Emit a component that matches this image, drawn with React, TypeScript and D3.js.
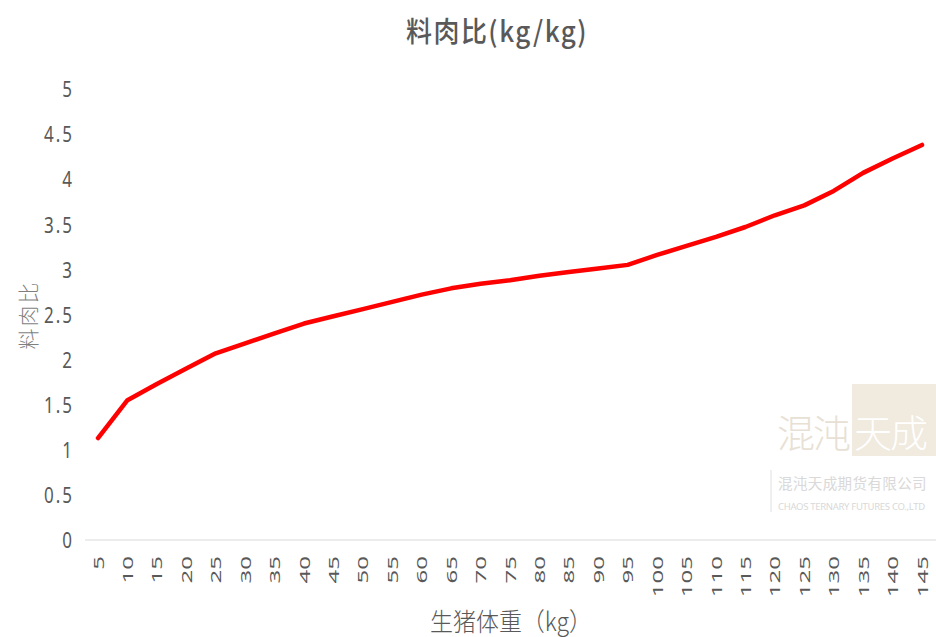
import React from "react";
import * as d3 from "d3";

const weights: number[] = [5, 10, 15, 20, 25, 30, 35, 40, 45, 50, 55, 60, 65, 70, 75, 80, 85, 90, 95, 100, 105, 110, 115, 120, 125, 130, 135, 140, 145];
const feedRatio: number[] = [1.13, 1.55, 1.73, 1.9, 2.07, 2.18, 2.29, 2.4, 2.48, 2.56, 2.64, 2.72, 2.79, 2.84, 2.88, 2.93, 2.97, 3.01, 3.05, 3.16, 3.26, 3.36, 3.47, 3.6, 3.71, 3.87, 4.07, 4.23, 4.38];
const yTicks: number[] = [0, 0.5, 1, 1.5, 2, 2.5, 3, 3.5, 4, 4.5, 5];
const title = "料肉比(kg/kg)";
const xTitle = "生猪体重（kg）";
const yTitle = "料肉比";

const W = 936;
const H = 637;
const FONT = "'Noto Sans', 'Noto Sans CJK SC', sans-serif";
const CJK = "'Noto Sans CJK SC', sans-serif";

export default function App() {
  const x = d3.scalePoint<string>().domain(weights.map(String)).range([83.3, 936.7]).padding(0.5);
  const y = d3.scaleLinear().domain([0, 5]).range([540, 89]);
  const line = d3
    .line<number>()
    .x((_, i) => x(String(weights[i])) as number)
    .y((d) => y(d));

  return (
    <svg width={W} height={H} style={{ position: "absolute", left: 0, top: 0, background: "#fff" }}>
      <rect width={W} height={H} fill="#fff" />
      {/* title */}
      <text
        transform="translate(497, 42) scale(1, 1.1)"
        textAnchor="middle"
        fontFamily={CJK}
        fontSize={26}
        fontWeight={500}
        letterSpacing={1.5}
        fill="#595959"
      >
        {title}
      </text>
      {/* y ticks */}
      {yTicks.map((t) => (
        <text
          key={t}
          transform={`translate(74, ${y(t)}) scale(1, 1.25)`}
          textAnchor="end"
          dominantBaseline="central"
          fontFamily={FONT}
          fontSize={17}
          letterSpacing={2}
          fill="#595959"
        >
          {String(t)}
        </text>
      ))}
      {/* y title */}
      <text
        transform={`translate(36, 315) rotate(-90)`}
        textAnchor="middle"
        fontFamily={CJK}
        fontSize={21}
        fontWeight={300}
        letterSpacing={2}
        fill="#7f7f7f"
      >
        {yTitle}
      </text>
      {/* baseline */}
      <line x1={85} x2={936} y1={y(0)} y2={y(0)} stroke="#d9d9d9" strokeWidth={1.2} />
      {/* x ticks */}
      {weights.map((w) => (
        <text
          key={w}
          transform={`translate(${(x(String(w)) as number)}, 556) rotate(-90) scale(1.6, 1)`}
          textAnchor="end"
          dominantBaseline="central"
          fontFamily={FONT}
          fontSize={15}
          fill="#595959"
        >
          {String(w)}
        </text>
      ))}
      {/* x title */}
      <text
        transform="translate(511, 631) scale(1, 1.1)"
        textAnchor="middle"
        fontFamily={CJK}
        fontSize={23}
        fontWeight={300}
        fill="#595959"
      >
        {xTitle}
      </text>
      {/* watermark */}
      <g opacity={0.9}>
        <text x={777} y={447} fontFamily={CJK} fontSize={38} fontWeight={200} fill="#e6ddd0" letterSpacing={-2}>
          混沌
        </text>
        <rect x={852} y={384} width={84} height={72} fill="#efe8dc" />
        <text x={854} y={447} fontFamily={CJK} fontSize={38} fontWeight={200} fill="#ffffff" letterSpacing={-2}>
          天成
        </text>
        <line x1={771} x2={771} y1={470} y2={512} stroke="#dddddd" strokeWidth={1} />
        <text x={778} y={489} fontFamily={CJK} fontSize={14.5} fill="#d5d5d5" letterSpacing={0.4}>
          混沌天成期货有限公司
        </text>
        <text x={778} y={510} fontFamily={FONT} fontSize={9.5} fill="#d5d5d5" letterSpacing={-0.3}>
          CHAOS TERNARY FUTURES CO.,LTD
        </text>
      </g>
      {/* line */}
      <path d={line(feedRatio) || ""} fill="none" stroke="#ff0000" strokeWidth={4.5} strokeLinejoin="round" strokeLinecap="round" />
    </svg>
  );
}
